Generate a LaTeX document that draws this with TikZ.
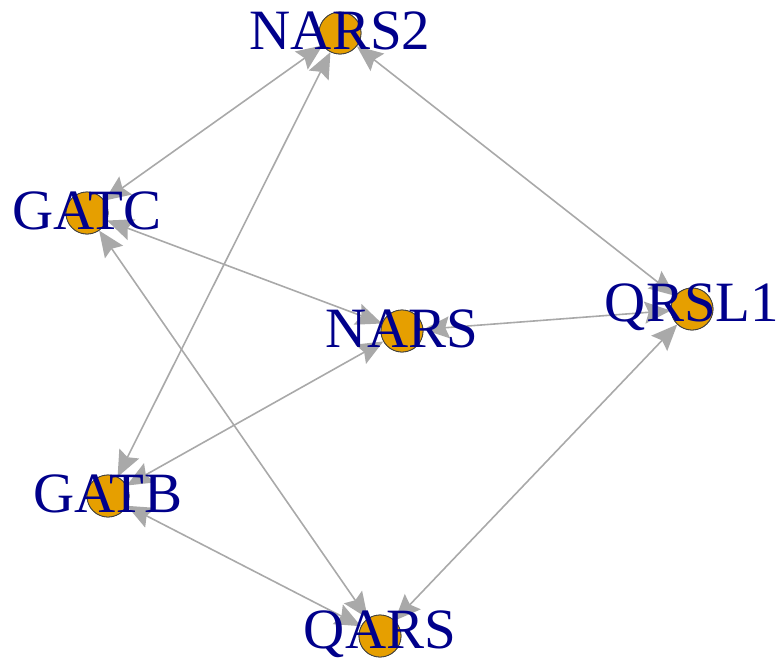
\documentclass[tikz,border=0pt]{standalone}
\usepackage{fontspec}
\setmainfont{Liberation Serif}
\usetikzlibrary{arrows.meta}
\definecolor{vfill}{RGB}{230,159,0}
\definecolor{vtext}{RGB}{0,0,139}
\definecolor{egray}{RGB}{169,169,169}
\tikzset{
  ehead/.tip={Stealth[length=26pt,width=22pt,inset=4pt]},
}
\begin{document}
\begin{tikzpicture}[x=1pt,y=-1pt,
  vtx/.style={circle,draw=black!75,line width=.8pt,fill=vfill,minimum size=42pt,inner sep=0pt},
  lbl/.style={text=vtext,inner sep=0pt,font=\fontsize{57}{57}\selectfont},
  edge/.style={draw=egray,line width=1.6pt,ehead-ehead}]
  \useasboundingbox (0,0) rectangle (780,664);
  \node[vtx] (nars2) at (340,33) {};
  \node[vtx] (gatc) at (87,213) {};
  \node[vtx] (qrsl1) at (692,309) {};
  \node[vtx] (nars) at (402,331) {};
  \node[vtx] (gatb) at (108,496) {};
  \node[vtx] (qars) at (380,636) {};
  % edges
  \draw[edge] (nars2)--(gatc);
  \draw[edge] (nars2)--(gatb);
  \draw[edge] (nars2)--(qrsl1);
  \draw[edge] (gatc)--(nars);
  \draw[edge] (gatc)--(qars);
  \draw[edge] (qrsl1)--(nars);
  \draw[edge] (qrsl1)--(qars);
  \draw[edge] (nars)--(gatb);
  \draw[edge] (gatb)--(qars);
  % vertices again on top, then labels
  \foreach \v in {nars2,gatc,qrsl1,nars,gatb,qars}
    \node[vtx] at (\v) {};
  \node[lbl] (nars2-l) at ([yshift=2pt]nars2) {NARS2};
  \node[lbl] (gatc-l) at ([yshift=2pt]gatc) {GATC};
  \node[lbl] (qrsl1-l) at ([yshift=2pt]qrsl1) {QRSL1};
  \node[lbl] (nars-l) at ([yshift=2pt]nars) {NARS};
  \node[lbl] (gatb-l) at ([yshift=2pt]gatb) {GATB};
  \node[lbl] (qars-l) at ([yshift=2pt]qars) {QARS};
\end{tikzpicture}
\end{document}
